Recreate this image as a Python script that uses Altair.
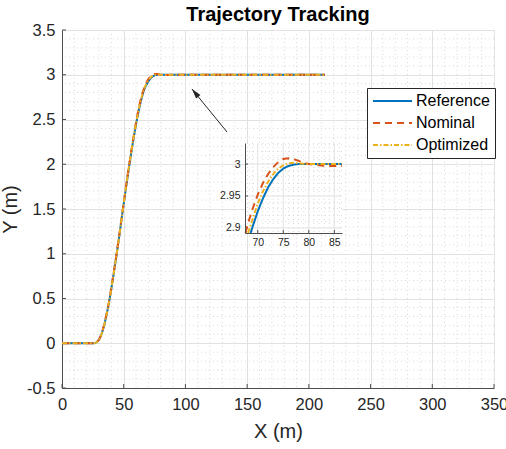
import altair as alt
import pandas as pd

FONT = "Liberation Sans"
INK = "#262626"

title_text = "Trajectory Tracking"
x_title = "X (m)"
y_title = "Y (m)"

# ---- trajectories: lateral position Y against longitudinal position X (m) ----
series_names = ["Reference", "Nominal", "Optimized"]
series_colors = ["#0072BD", "#D95319", "#EDB120"]
series_dashes = [[1, 0], [7, 5], [5, 2, 1.5, 2]]

ref_x = [0, 10, 20, 26, 28, 30, 32, 34, 36, 38, 40, 42, 44, 46, 48, 50, 52, 54, 56, 58,
         60, 62, 64, 66, 67, 68, 68.6, 69, 70, 71, 72, 73, 74, 75, 76, 77, 78, 80, 84, 86.5,
         100, 150, 213]
ref_y = [0, 0, 0, 0, 0.01, 0.04, 0.1, 0.19, 0.31, 0.45, 0.61, 0.79, 0.97, 1.16, 1.36, 1.56,
         1.75, 1.94, 2.12, 2.29, 2.45, 2.59, 2.71, 2.81, 2.85, 2.88, 2.892, 2.902, 2.926, 2.946,
         2.963, 2.976, 2.986, 2.993, 2.997, 2.999, 3.0, 3.0, 3.0, 3.0, 3.0, 3.0, 3.0]

nom_x = [0, 10, 20, 26, 28, 30, 32, 34, 36, 38, 40, 42, 44, 46, 48, 50, 52, 54, 56, 58,
         60, 62, 64, 66, 67, 67.6, 68, 69, 70, 71, 72, 73, 74, 75, 76, 77, 78, 79, 80, 81,
         82, 84, 86.5, 90, 100, 150, 213]
nom_y = [0, 0, 0, 0, 0.01, 0.04, 0.1, 0.2, 0.32, 0.46, 0.62, 0.8, 0.98, 1.17, 1.37, 1.57,
         1.77, 1.96, 2.14, 2.31, 2.47, 2.62, 2.74, 2.83, 2.865, 2.892, 2.905, 2.93, 2.952, 2.97,
         2.984, 2.995, 3.003, 3.008, 3.009, 3.008, 3.005, 3.002, 3.0, 2.999, 2.998, 2.997,
         2.997, 3.0, 3.0, 3.0, 3.0]

opt_x = [0, 10, 20, 26, 28, 30, 32, 34, 36, 38, 40, 42, 44, 46, 48, 50, 52, 54, 56, 58,
         60, 62, 64, 66, 67, 68, 68.1, 69, 70, 71, 72, 73, 74, 75, 76, 77, 78, 80, 84, 86.5,
         100, 150, 213]
opt_y = [0, 0, 0, 0, 0.01, 0.04, 0.1, 0.19, 0.31, 0.45, 0.61, 0.79, 0.97, 1.16, 1.36, 1.56,
         1.76, 1.95, 2.13, 2.3, 2.46, 2.605, 2.725, 2.82, 2.86, 2.889, 2.892, 2.914, 2.938, 2.957,
         2.972, 2.984, 2.993, 2.998, 3.001, 3.002, 3.001, 3.0, 3.0, 3.0, 3.0, 3.0, 3.0]

# ---- main axes ----
x_domain = [0, 350]
y_domain = [-0.5, 3.5]
x_ticks = [0, 50, 100, 150, 200, 250, 300, 350]
y_ticks = [-0.5, 0, 0.5, 1, 1.5, 2, 2.5, 3, 3.5]
x_minor = [v for v in range(0, 351, 10) if v % 50]
y_minor = [round(-0.5 + 0.1 * i, 2) for i in range(41) if i % 5]

# ---- zoomed inset ----
inset_x_domain = [67.5, 86.5]
inset_y_domain = [2.892, 3.033]
inset_x_ticks = [70, 75, 80, 85]
inset_y_ticks = [2.9, 2.95, 3.0]
inset_x_minor = [v for v in range(68, 87) if v % 5]
inset_y_minor = [round(2.9 + 0.01 * i, 3) for i in range(14) if i % 5]

# arrow pointing from the inset towards the settled part of the curve
arrow_tail = (133.7, 2.36)
arrow_head = (105.3, 2.84)

W, H = 432, 358
INSET_L, INSET_R, INSET_T, INSET_B = 183, 280, 113, 203

rows = []
for name, xs_, ys_ in zip(series_names, [ref_x, nom_x, opt_x], [ref_y, nom_y, opt_y]):
    for i, (a, b) in enumerate(zip(xs_, ys_)):
        rows.append({"series": name, "x": a, "y": b, "k": i})
df = pd.DataFrame(rows)

label_expr = "datum.value + ''"

xs = alt.Scale(domain=x_domain, nice=False, zero=False)
ys = alt.Scale(domain=y_domain, nice=False, zero=False)

x_axis = alt.Axis(values=x_ticks, title=x_title, grid=True, gridColor="#e2e2e2",
                  ticks=False, domainColor="#4d4d4d", labelFont=FONT, labelFontSize=16.5,
                  labelColor=INK, labelPadding=8, labelFlush=False, labelOverlap=False,
                  labelExpr=label_expr, titleFont=FONT, titleFontSize=20,
                  titleFontWeight="normal", titleColor=INK, titlePadding=9)
y_axis = alt.Axis(values=y_ticks, title=y_title, grid=True, gridColor="#e2e2e2",
                  ticks=False, domainColor="#4d4d4d", labelFont=FONT, labelFontSize=16.5,
                  labelColor=INK, labelPadding=7, labelFlush=False, labelOverlap=False,
                  labelExpr=label_expr, titleFont=FONT, titleFontSize=20,
                  titleFontWeight="normal", titleColor=INK, titlePadding=6)

# legend keys: a long horizontal stroke drawn from a compact symbol box
legend = alt.Legend(title=None, orient="none", legendX=305, legendY=58,
                    symbolType="M-1,0H4.57", symbolSize=196, symbolStrokeWidth=2,
                    labelFont=FONT, labelFontSize=16, labelColor="#000000",
                    fillColor="white", strokeColor=INK, padding=5, rowPadding=6,
                    labelOffset=28)
color_enc = alt.Color("series:N", scale=alt.Scale(domain=series_names, range=series_colors),
                      legend=legend)
dash_enc = alt.StrokeDash("series:N", scale=alt.Scale(domain=series_names, range=series_dashes),
                          legend=legend)

minor_style = dict(color="#dadada", strokeDash=[1, 3], strokeWidth=1)

grid_x_minor = alt.Chart(pd.DataFrame({"v": x_minor})).mark_rule(**minor_style).encode(
    x=alt.X("v:Q", scale=xs, axis=x_axis))
grid_y_minor = alt.Chart(pd.DataFrame({"v": y_minor})).mark_rule(**minor_style).encode(
    y=alt.Y("v:Q", scale=ys, axis=y_axis))

tick_x = alt.Chart(pd.DataFrame({"v": x_ticks})).mark_rule(color="#4d4d4d").encode(
    x=alt.X("v:Q", scale=xs, axis=x_axis), y=alt.value(H), y2=alt.value(H - 4))
tick_y = alt.Chart(pd.DataFrame({"v": y_ticks})).mark_rule(color="#4d4d4d").encode(
    y=alt.Y("v:Q", scale=ys, axis=y_axis), x=alt.value(0), x2=alt.value(4))

lines = alt.Chart(df).mark_line(strokeWidth=2).encode(
    x=alt.X("x:Q", scale=xs, axis=x_axis),
    y=alt.Y("y:Q", scale=ys, axis=y_axis),
    color=color_enc, strokeDash=dash_enc, order="k:Q")

arrow_df = pd.DataFrame({"x": [arrow_tail[0]], "y": [arrow_tail[1]],
                         "x2": [arrow_head[0]], "y2": [arrow_head[1]]})
arrow_line = alt.Chart(arrow_df).mark_rule(color=INK, strokeWidth=1).encode(
    x=alt.X("x:Q", scale=xs, axis=x_axis), y=alt.Y("y:Q", scale=ys, axis=y_axis),
    x2="x2:Q", y2="y2:Q")
arrow_tip = alt.Chart(arrow_df).mark_point(
    shape="M0,0L-0.28,1L0.28,1Z", filled=True, color=INK, opacity=1, size=400, angle=321
).encode(x=alt.X("x2:Q", scale=xs, axis=x_axis), y=alt.Y("y2:Q", scale=ys, axis=y_axis))

main = alt.layer(grid_x_minor, grid_y_minor, tick_x, tick_y, lines, arrow_line, arrow_tip)

# ---- inset ----
ixs = alt.Scale(domain=inset_x_domain, range=[INSET_L, INSET_R], nice=False, zero=False)
iys = alt.Scale(domain=inset_y_domain, range=[INSET_B, INSET_T], nice=False, zero=False)
ix_axis = alt.Axis(values=inset_x_ticks, orient="bottom", offset=-(H - INSET_B), title=None,
                   grid=False, ticks=False, domainColor="#4d4d4d", labelFont=FONT,
                   labelFontSize=10.5, labelColor=INK, labelPadding=4, labelFlush=False,
                   labelOverlap=False, labelExpr=label_expr, zindex=1)
iy_axis = alt.Axis(values=inset_y_ticks, orient="left", offset=-INSET_L, title=None,
                   grid=False, ticks=False, domainColor="#4d4d4d", labelFont=FONT,
                   labelFontSize=10.5, labelColor=INK, labelPadding=5, labelFlush=False,
                   labelOverlap=False, labelExpr=label_expr, zindex=1)

inset_bg = alt.Chart(pd.DataFrame({"v": [0]})).mark_rect(color="white").encode(
    x=alt.value(INSET_L), x2=alt.value(INSET_R), y=alt.value(INSET_T), y2=alt.value(INSET_B))

ig_x_minor = alt.Chart(pd.DataFrame({"v": inset_x_minor})).mark_rule(**minor_style).encode(
    x=alt.X("v:Q", scale=ixs, axis=ix_axis), y=alt.value(INSET_T), y2=alt.value(INSET_B))
ig_y_minor = alt.Chart(pd.DataFrame({"v": inset_y_minor})).mark_rule(**minor_style).encode(
    y=alt.Y("v:Q", scale=iys, axis=iy_axis), x=alt.value(INSET_L), x2=alt.value(INSET_R))
ig_x_major = alt.Chart(pd.DataFrame({"v": inset_x_ticks})).mark_rule(color="#e2e2e2").encode(
    x=alt.X("v:Q", scale=ixs, axis=ix_axis), y=alt.value(INSET_T), y2=alt.value(INSET_B))
ig_y_major = alt.Chart(pd.DataFrame({"v": inset_y_ticks})).mark_rule(color="#e2e2e2").encode(
    y=alt.Y("v:Q", scale=iys, axis=iy_axis), x=alt.value(INSET_L), x2=alt.value(INSET_R))
it_x = alt.Chart(pd.DataFrame({"v": inset_x_ticks})).mark_rule(color="#4d4d4d").encode(
    x=alt.X("v:Q", scale=ixs, axis=ix_axis), y=alt.value(INSET_B), y2=alt.value(INSET_B - 3))
it_y = alt.Chart(pd.DataFrame({"v": inset_y_ticks})).mark_rule(color="#4d4d4d").encode(
    y=alt.Y("v:Q", scale=iys, axis=iy_axis), x=alt.value(INSET_L), x2=alt.value(INSET_L + 3))

inset_lines = alt.Chart(df).transform_filter(
    (alt.datum.x >= inset_x_domain[0]) & (alt.datum.x <= inset_x_domain[1])
    & (alt.datum.y >= inset_y_domain[0] - 1e-6)
).mark_line(strokeWidth=2).encode(
    x=alt.X("x:Q", scale=ixs, axis=ix_axis),
    y=alt.Y("y:Q", scale=iys, axis=iy_axis),
    color=color_enc, strokeDash=dash_enc, order="k:Q")

inset = alt.layer(inset_bg, ig_x_minor, ig_y_minor, ig_x_major, ig_y_major, it_x, it_y,
                  inset_lines)

chart = alt.layer(main, inset).resolve_scale(x="independent", y="independent").properties(
    width=W, height=H,
    title=alt.TitleParams(title_text, font=FONT, fontSize=20, fontWeight="bold",
                          color="#000000", anchor="middle", offset=-3),
    padding={"left": 62, "top": 30, "right": 12, "bottom": 61},
    autosize=alt.AutoSizeParams(type="none"),
).configure_view(stroke=None).configure(background="white")

chart.save("out.html", embed_options={"renderer": "svg", "actions": False})
